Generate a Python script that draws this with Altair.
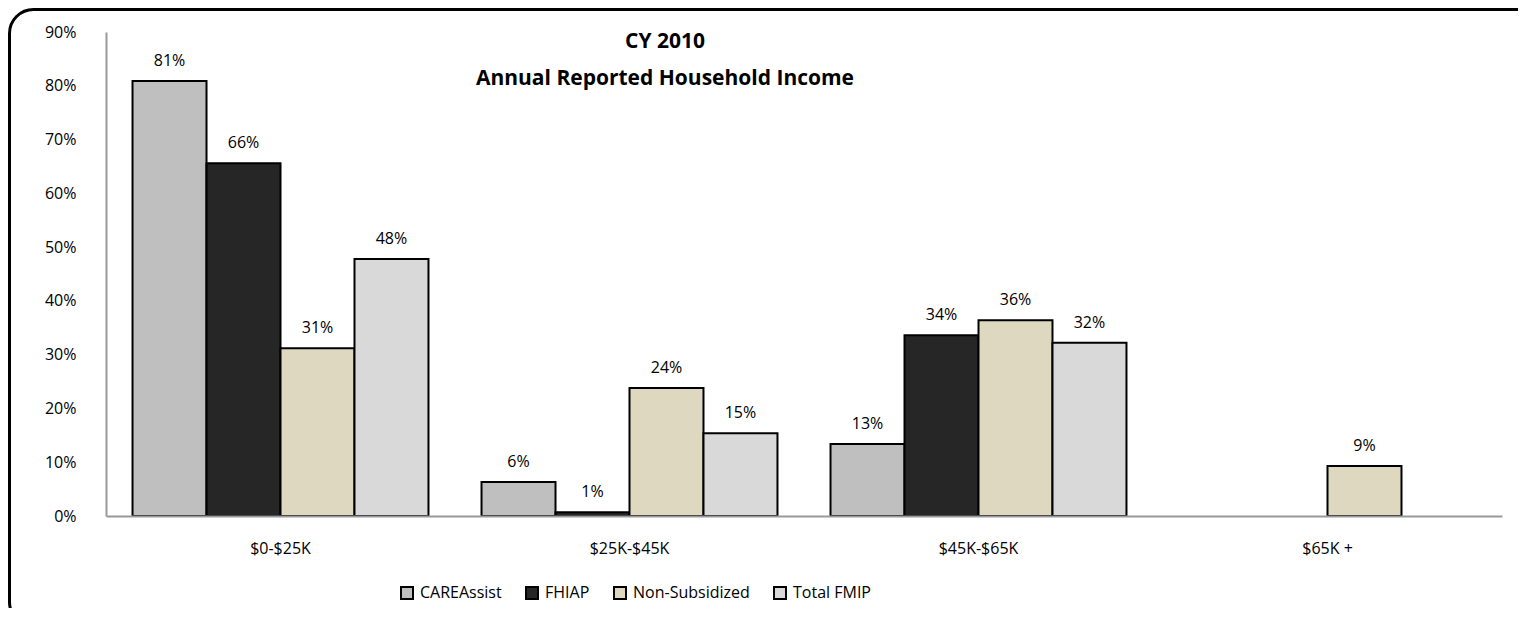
import altair as alt
import pandas as pd

categories = ["$0-$25K", "$25K-$45K", "$45K-$65K", "$65K +"]
series = ["CAREAssist", "FHIAP", "Non-Subsidized", "Total FMIP"]
care_assist = [0.809, 0.063, 0.134, None]
fhiap = [0.656, 0.007, 0.336, None]
non_subsidized = [0.312, 0.238, 0.364, 0.093]
total_fmip = [0.478, 0.154, 0.322, None]
colors = ["#bfbfbf", "#262626", "#ddd8bf", "#d9d9d9"]
y_ticks = [0, 0.1, 0.2, 0.3, 0.4, 0.5, 0.6, 0.7, 0.8, 0.9]
title_lines = ["CY 2010", "Annual Reported Household Income"]

rows = []
for name, vals in zip(series, [care_assist, fhiap, non_subsidized, total_fmip]):
    for cat, v in zip(categories, vals):
        if v is not None:
            rows.append({"category": cat, "series": name, "value": v})
df = pd.DataFrame(rows)

FONT = "Open Sans"
W, H = 1396, 484

x_enc = alt.X("category:N", sort=categories, title=None,
              scale=alt.Scale(paddingInner=0.152, paddingOuter=0.076),
              axis=alt.Axis(labelAngle=0, ticks=False, labelPadding=24,
                            labelFontSize=16, labelColor="#000000",
                            domainColor="#999999", domainWidth=2, zindex=1))
xo_enc = alt.XOffset("series:N", sort=series, scale=alt.Scale(paddingInner=0, paddingOuter=0))
y_enc = alt.Y("value:Q", title=None,
              scale=alt.Scale(domain=[0, 0.9], nice=False),
              axis=alt.Axis(values=y_ticks, format=".0%", ticks=False, grid=False,
                            labelPadding=30, labelFontSize=16, labelColor="#000000",
                            domainColor="#999999", domainWidth=2, zindex=1))

base = alt.Chart(df)

bars = base.mark_bar(stroke="#000000", strokeWidth=2).encode(
    x=x_enc,
    xOffset=xo_enc,
    y=y_enc,
    color=alt.Color("series:N", sort=series, title=None,
                    scale=alt.Scale(domain=series, range=colors),
                    legend=alt.Legend(orient="none", legendX=293, legendY=553,
                                      direction="horizontal", symbolType="square",
                                      symbolSize=144, symbolStrokeColor="#000000",
                                      symbolStrokeWidth=2, labelFontSize=16,
                                      labelFont=FONT, labelColor="#000000",
                                      columnPadding=20, labelOffset=5)),
)

labels = base.mark_text(fontSize=16, font=FONT, baseline="alphabetic", dy=-15,
                        color="#000000").encode(
    x=alt.X("category:N", sort=categories),
    xOffset=alt.XOffset("series:N", sort=series),
    y=alt.Y("value:Q"),
    text=alt.Text("value:Q", format=".0%"),
)

one = pd.DataFrame({"k": [0]})

border = alt.Chart(one).mark_rect(
    fill="transparent", stroke="#000000", strokeWidth=3, cornerRadius=24
).encode(
    x=alt.value(-96.5), x2=alt.value(W + 40),
    y=alt.value(-22.5), y2=alt.value(H + 110),
)

title = alt.Chart(one).mark_text(
    font=FONT, fontSize=21, fontWeight="bold", align="center",
    baseline="alphabetic", lineHeight=37, color="#000000"
).encode(
    x=alt.value(559), y=alt.value(16), text=alt.value(title_lines),
)

chart = alt.layer(border, bars, labels, title).properties(
    width=W, height=H,
    padding={"left": 98, "top": 24, "right": 16, "bottom": 92},
    autosize=alt.AutoSizeParams(type="none"),
).configure(font=FONT).configure_view(stroke=None)

chart.save("out.html", embed_options={"renderer": "svg", "actions": False})
